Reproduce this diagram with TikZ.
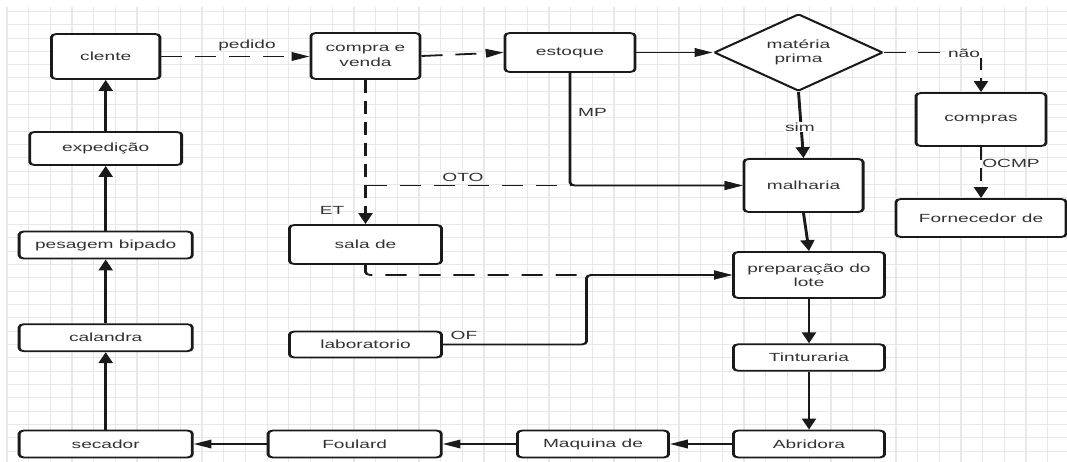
\documentclass[tikz,border=0pt]{standalone}
\usepackage{fontspec}
\setmainfont{Liberation Sans}
\usetikzlibrary{arrows.meta,shapes.geometric}
\definecolor{linec}{HTML}{1A1A1A}
\definecolor{textc}{HTML}{333333}
\definecolor{gridc}{HTML}{E8E8E8}
\newcommand\dfont{\fontsize{11.8}{14.3}\selectfont}
\tikzset{
 box/.style={draw=linec, line width=1.8pt, rounded corners=3pt, fill=white, text=textc, font=\dfont, inner sep=2pt, align=center},
 conn/.style={draw=linec, line width=1.8pt, rounded corners=3pt, -{Triangle[length=11pt,width=8.5pt]}},
 dconn/.style={conn, dash pattern=on 13pt off 8pt},
 lbl/.style={text=textc, font=\dfont, inner sep=1pt},
 wlbl/.style={lbl, fill=white},
 gridv/.style={draw=gridc, line width=1.3pt},
 gridh/.style={draw=gridc, line width=0.9pt},
}
\begin{document}
\begin{tikzpicture}[x=1pt,y=-1pt]
\useasboundingbox[fill=white] (0,0) rectangle (1067,462);
\foreach \k in {0,...,48} \draw[gridv] ({7+21.68*\k},7) -- ({7+21.68*\k},462);
\foreach \k in {0,...,33} \draw[gridh] (7,{11.3+13.33*\k}) -- (1067,{11.3+13.33*\k});
\begin{scope}[x=0.61728pt, transform canvas={xscale=1.62}]
% nodes
\node[box, minimum width=66.9pt, minimum height=45pt] (clente) at (105.7,56.5) {clente};
\node[box, minimum width=67.3pt, minimum height=46pt] (compra) at (365.5,56) {compra e\\venda};
\node[box, minimum width=80.2pt, minimum height=39pt] (estoque) at (570,52.5) {estoque};
\node[box, shape=diamond, rounded corners=1pt, minimum width=104.3pt, minimum height=77pt, inner sep=0pt] (materia) at (798.5,52.5) {matéria\\prima};
\node[box, minimum width=80.2pt, minimum height=53pt] (compras) at (981,119.5) {compras};
\node[box, minimum width=73.5pt, minimum height=53pt] (malharia) at (803.5,185.5) {malharia};
\node[box, minimum width=104.9pt, minimum height=38pt] (fornecedor) at (981,218) {Fornecedor de};
\node[box, minimum width=93.8pt, minimum height=33pt] (expedicao) at (105.7,148.5) {expedição};
\node[box, minimum width=106.8pt, minimum height=27pt] (pesagem) at (105.7,245) {pesagem bipado};
\node[box, minimum width=106.8pt, minimum height=27pt] (calandra) at (105.7,337.7) {calandra};
\node[box, minimum width=106.8pt, minimum height=27pt] (secador) at (105.7,444) {secador};
\node[box, minimum width=106.8pt, minimum height=27pt] (foulard) at (354.7,444) {Foulard};
\node[box, minimum width=93.2pt, minimum height=27pt] (maquina) at (593,444) {Maquina de};
\node[box, minimum width=93.2pt, minimum height=27pt] (abridora) at (809,444) {Abridora};
\node[box, minimum width=93.2pt, minimum height=26.5pt] (tinturaria) at (809,357.5) {Tinturaria};
\node[box, minimum width=93.2pt, minimum height=46pt] (prep) at (809,275) {preparação do\\lote};
\node[box, minimum width=93.8pt, minimum height=39pt] (sala) at (365.5,244.5) {sala de};
\node[box, minimum width=93.8pt, minimum height=26pt] (lab) at (365.5,344.5) {laboratorio};
% connectors
\draw[dconn] (clente) -- (clente -| compra.west);
\draw[dconn] (compra.east) -- (estoque.west);
\draw[conn] (estoque.east) -- (materia.west);
\draw[dconn] (materia.east) -| (compras.north);
\draw[conn] (materia.south) -- (malharia.north);
\draw[conn] (estoque.south) |- (malharia.west);
\coordinate (otoS) at (compra.south |- malharia.west);
\draw[dconn] (otoS) -- (malharia.west);
\draw[dconn] (compra.south) -- (sala.north);
\draw[dconn] (sala.south) |- (prep.west);
\coordinate (ofx) at (586.5,300);
\draw[conn] (lab.east) -- (lab.east -| ofx) |- (prep.west);
\draw[conn] (malharia.south) -- (prep.north);
\draw[conn] (prep) -- (tinturaria);
\draw[conn] (tinturaria) -- (abridora);
\draw[conn] (abridora) -- (maquina);
\draw[conn] (maquina) -- (foulard);
\draw[conn] (foulard) -- (secador);
\draw[conn] (secador) -- (calandra);
\draw[conn] (calandra) -- (pesagem);
\draw[conn] (pesagem) -- (expedicao);
\draw[conn] (expedicao) -- (clente);
\draw[dconn] (compras) -- (fornecedor);
% labels
\node[lbl] (lpedido) at (247,45) {pedido};
\node[lbl] (lmp) at (592.5,112) {MP};
\node[lbl] (loto) at (463,177) {OTO};
\node[lbl] (let) at (332,210) {ET};
\node[lbl] (lof) at (464,335) {OF};
\node[wlbl] (lnao) at (964,53) {não};
\node[wlbl] (lsim) at (800,127) {sim};
\node[lbl] (locmp) at (1011,163) {OCMP};
\end{scope}
\end{tikzpicture}
\end{document}
